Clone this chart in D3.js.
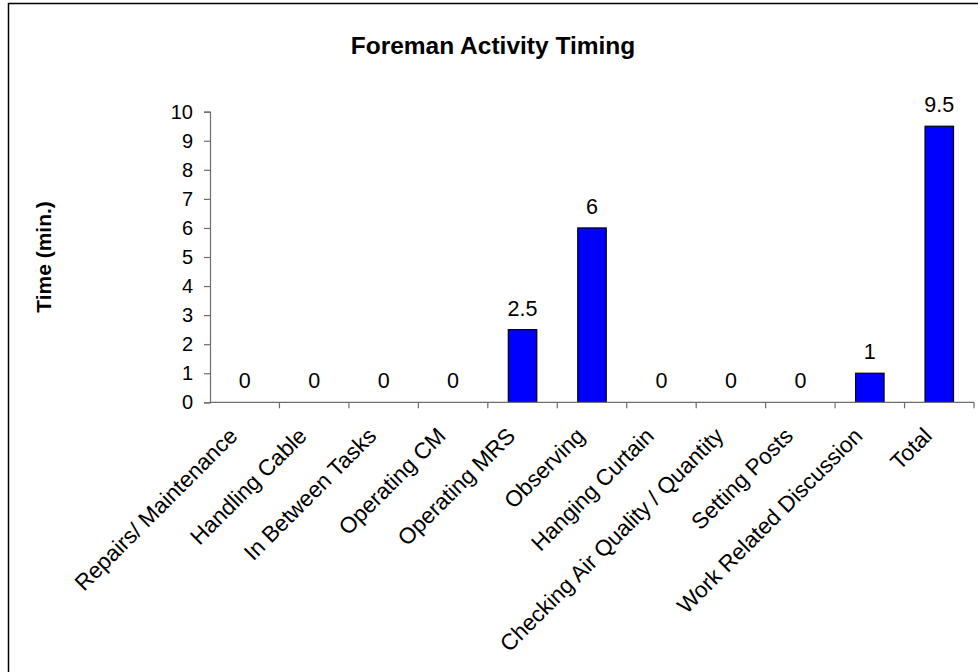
<!DOCTYPE html>
<html>
<head>
<meta charset="utf-8">
<script src="https://cdn.jsdelivr.net/npm/d3@7"></script>
<style>
  html, body { margin: 0; padding: 0; background: #fff; }
  svg { display: block; }
  text { font-family: "Liberation Sans", Arial, sans-serif; fill: #000; }
</style>
</head>
<body>
<svg id="chart" width="978" height="672"></svg>
<script>
const categories = [
  "Repairs/ Maintenance", "Handling Cable", "In Between Tasks", "Operating CM",
  "Operating MRS", "Observing", "Hanging Curtain", "Checking Air Quality / Quantity",
  "Setting Posts", "Work Related Discussion", "Total"
];
const values = [0, 0, 0, 0, 2.5, 6, 0, 0, 0, 1, 9.5];
const yTicks = [0, 1, 2, 3, 4, 5, 6, 7, 8, 9, 10];
const chartTitle = "Foreman Activity Timing";
const yTitle = "Time (min.)";

const svg = d3.select("#chart");
const plot = { left: 210, right: 974, top: 111.7, bottom: 402.3 };

// outer border (extends past the right/bottom edge as in the reference)
svg.append("rect")
  .attr("x", 8.5).attr("y", 3.5)
  .attr("width", 1100).attr("height", 1100)
  .attr("fill", "none").attr("stroke", "#000").attr("stroke-width", 1.5);

const x = d3.scaleBand().domain(categories).range([plot.left, plot.right]).paddingInner(0).paddingOuter(0);
const y = d3.scaleLinear().domain([0, 10]).range([plot.bottom, plot.top]);
const barW = x.bandwidth() * 0.41;

// title
svg.append("text")
  .attr("x", 493).attr("y", 54)
  .attr("text-anchor", "middle")
  .style("font-size", "24.5px").style("font-weight", "bold")
  .text(chartTitle);

// y-axis title
svg.append("text")
  .attr("transform", `translate(51,${(plot.top + plot.bottom) / 2}) rotate(-90)`)
  .attr("text-anchor", "middle")
  .style("font-size", "21px").style("font-weight", "bold")
  .text(yTitle);

// bars
svg.append("g").selectAll("rect")
  .data(values)
  .join("rect")
  .attr("x", (d, i) => x(categories[i]) + (x.bandwidth() - barW) / 2)
  .attr("y", d => y(d))
  .attr("width", barW)
  .attr("height", d => y(0) - y(d))
  .attr("fill", "#0000ff")
  .attr("stroke", "#000")
  .attr("stroke-width", 1.2)
  .style("display", d => d > 0 ? null : "none");

// y axis
const yAxis = d3.axisLeft(y).tickValues(yTicks).tickSize(6).tickPadding(11).tickFormat(d3.format("d"));
const gy = svg.append("g").attr("transform", `translate(${plot.left},0)`).call(yAxis);
gy.select(".domain").attr("stroke", "#6e6e6e").attr("stroke-width", 1.2);
gy.selectAll(".tick line").attr("stroke", "#6e6e6e").attr("stroke-width", 1.2);
gy.selectAll(".tick text").style("font-size", "20px").style("font-family", "Liberation Sans, Arial, sans-serif").attr("fill", "#000");

// x axis: ticks at band boundaries
const gx = svg.append("g").attr("transform", `translate(0,${plot.bottom})`);
gx.append("line")
  .attr("x1", plot.left).attr("x2", plot.right)
  .attr("y1", 0).attr("y2", 0)
  .attr("stroke", "#6e6e6e").attr("stroke-width", 1.2);
const boundaries = categories.map(c => x(c) + x.bandwidth());
gx.selectAll("line.tk")
  .data(boundaries)
  .join("line")
  .attr("class", "tk")
  .attr("x1", d => d).attr("x2", d => d)
  .attr("y1", 0).attr("y2", 6)
  .attr("stroke", "#6e6e6e").attr("stroke-width", 1.2);

// category labels
svg.append("g").selectAll("text")
  .data(categories)
  .join("text")
  .attr("transform", d => `translate(${x(d) + x.bandwidth() / 2 - 6},${plot.bottom + 35}) rotate(-45)`)
  .attr("text-anchor", "end")
  .style("font-size", "22.5px")
  .text(d => d);

// data labels
svg.append("g").selectAll("text")
  .data(values)
  .join("text")
  .attr("x", (d, i) => x(categories[i]) + x.bandwidth() / 2)
  .attr("y", d => y(d) - 14)
  .attr("text-anchor", "middle")
  .style("font-size", "21.5px")
  .text(d => d);
</script>
</body>
</html>
